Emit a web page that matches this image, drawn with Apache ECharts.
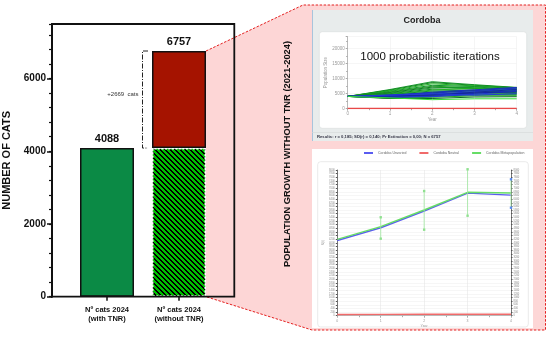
<!DOCTYPE html>
<html><head><meta charset="utf-8">
<script src="https://cdn.jsdelivr.net/npm/echarts@6/dist/echarts.min.js"></script>
<style>html,body{margin:0;padding:0;background:#fff}#c{width:550px;height:337px}</style>
</head><body><div id="c"></div>
<script>
// ---------------- data ----------------
const categories = ['Nº cats 2024\n(with TNR)', 'Nº cats 2024\n(without TNR)'];
const catsWithTNR = 4088;
const catsWithoutTNR = 6757;
const mainYLabels = [0, 2000, 4000, 6000];
const mainYMinorStep = 400;

const iterYears = [0, 1, 2, 3, 4];
const iterGreen = [
  [4088, 6400, 9000, 8000, 7100],
  [4088, 6200, 8700, 7800, 7000],
  [4088, 6000, 8300, 7600, 6900],
  [4088, 5800, 7800, 7400, 6800],
  [4088, 5600, 7500, 7000, 6600],
  [4088, 5400, 7200, 6800, 6500],
  [4088, 5200, 6900, 7300, 6300],
  [4088, 5000, 6500, 6600, 6100],
  [4088, 4800, 6200, 6900, 6000],
  [4088, 4700, 5900, 6200, 5800],
  [4088, 4500, 5600, 5900, 5600],
  [4088, 4300, 5300, 6100, 5500],
  [4088, 4100, 5000, 5600, 5300],
  [4088, 3900, 4700, 5200, 5100],
  [4088, 3700, 4400, 4900, 4800],
  [4088, 3600, 4100, 4600, 4600],
  [4088, 3500, 3800, 4300, 4300],
  [4088, 3400, 3400, 3900, 4000]
];
const iterBright = [4088, 3600, 3000, 3300, 3300];
const iterBlue = [
  [4088, 4600, 5200, 6000, 6900],
  [4088, 4300, 4800, 5700, 6600],
  [4088, 4000, 4500, 5500, 6400],
  [4088, 3800, 4200, 5100, 6100],
  [4088, 3900, 4000, 4800, 5800],
  [4088, 4200, 4600, 5300, 5600],
  [4088, 4400, 5500, 6300, 7100],
  [4088, 4500, 5000, 4500, 5000]
];
const iterRed = [60, 60, 60, 60, 60];

const detYears = [0, 1, 2, 3, 4];
const detNames = ['Cordoba Unvaried', 'Cordoba Neutral', 'Cordoba Metapopulation'];
const detUnvaried = [4130, 4830, 5750, 6730, 6620];
const detNeutral = [70, 75, 80, 80, 80];
const detMeta = [4195, 4887, 5804, 6776, 6738];
const errYears = [1, 2, 3, 4];
const errLow = [4229, 4723, 5490, 5930];
const errHigh = [5404, 6848, 8040, 7490];

// ---------------- helpers ----------------
function makeHatch() {
  const P = 5, c = document.createElement('canvas');
  c.width = P; c.height = P;
  const ctx = c.getContext('2d');
  const img = ctx.createImageData(P, P);
  for (let y = 0; y < P; y++) for (let x = 0; x < P; x++) {
    const k = (((x - y) % P) + P) % P;
    const i = (y * P + x) * 4;
    if (k < 2) { img.data[i] = 0; img.data[i+1] = 0; img.data[i+2] = 0; }
    else { img.data[i] = 0; img.data[i+1] = 190; img.data[i+2] = 0; }
    img.data[i+3] = 255;
  }
  ctx.putImageData(img, 0, 0);
  return c;
}
const hatch = makeHatch();
const greenShades = ['#159a2a', '#0e7f1e', '#1fb41f', '#118c30', '#22a822', '#0c7020'];
const blueShades = ['#1c2fc0', '#2438d8', '#1428a0'];
const FONT = 'Liberation Sans, Arial, sans-serif';
const plain = v => String(v);

const chart = echarts.init(document.getElementById('c'), null, { renderer: 'canvas' });

const series = [];
series.push({
  type: 'bar', xAxisIndex: 0, yAxisIndex: 0, stack: 'm', barWidth: 54, z: 4,
  data: [
    { value: catsWithTNR, itemStyle: { color: '#0b8a45', borderColor: '#111', borderWidth: 1.5 },
      label: { show: true, position: 'top', distance: 4, fontFamily: FONT, fontWeight: 'bold', fontSize: 11, color: '#111' } },
    { value: catsWithTNR, itemStyle: { color: { image: hatch, repeat: 'repeat' }, borderColor: '#fff', borderWidth: 1.5, borderType: [2, 1.5] } }
  ],
  silent: true
});
series.push({
  type: 'bar', xAxisIndex: 0, yAxisIndex: 0, stack: 'm', barWidth: 54, z: 3,
  data: ['-', catsWithoutTNR - catsWithTNR],
  itemStyle: { color: '#a51300', borderColor: '#111', borderWidth: 1.5 },
  label: { show: true, position: 'top', distance: 4, formatter: () => String(catsWithoutTNR), fontFamily: FONT, fontWeight: 'bold', fontSize: 11, color: '#111' },
  silent: true
});
iterGreen.forEach((d, i) => series.push({
  type: 'line', xAxisIndex: 1, yAxisIndex: 2, symbol: 'none', silent: true, z: 3,
  data: iterYears.map((y, j) => [y, d[j]]),
  lineStyle: { width: 1, color: greenShades[i % greenShades.length] }
}));
iterBlue.forEach((d, i) => series.push({
  type: 'line', xAxisIndex: 1, yAxisIndex: 2, symbol: 'none', silent: true, z: 4,
  data: iterYears.map((y, j) => [y, d[j]]),
  lineStyle: { width: 1, color: blueShades[i % blueShades.length] }
}));
series.push({
  type: 'line', xAxisIndex: 1, yAxisIndex: 2, symbol: 'none', silent: true, z: 4,
  data: iterYears.map((y, j) => [y, iterBright[j]]),
  lineStyle: { width: 1, color: '#33e033' }
});
series.push({
  type: 'line', xAxisIndex: 1, yAxisIndex: 2, symbol: 'none', silent: true, z: 5,
  data: iterYears.map((y, j) => [y, iterRed[j]]),
  lineStyle: { width: 1.3, color: '#e84848' }
});
series.push({
  name: detNames[0], type: 'line', xAxisIndex: 2, yAxisIndex: 3, symbol: 'none', silent: true, z: 5,
  data: detYears.map((y, j) => [y, detUnvaried[j]]), lineStyle: { width: 1.4, color: '#5a5cf0' }, itemStyle: { color: '#5a5cf0' }
});
series.push({
  name: detNames[1], type: 'line', xAxisIndex: 2, yAxisIndex: 3, symbol: 'none', silent: true, z: 5,
  data: detYears.map((y, j) => [y, detNeutral[j]]), lineStyle: { width: 1.4, color: '#f06a6a' }, itemStyle: { color: '#f06a6a' }
});
series.push({
  name: detNames[2], type: 'line', xAxisIndex: 2, yAxisIndex: 3, symbol: 'none', silent: true, z: 6,
  data: detYears.map((y, j) => [y, detMeta[j]]), lineStyle: { width: 1.4, color: '#66dd66' }, itemStyle: { color: '#66dd66' }
});
series.push({
  type: 'custom', xAxisIndex: 2, yAxisIndex: 3, silent: true, z: 7,
  data: errYears.map((y, j) => [y, errLow[j], errHigh[j]]),
  renderItem: function (params, api) {
    const lo = api.coord([api.value(0), api.value(1)]);
    const hi = api.coord([api.value(0), api.value(2)]);
    const c = params.dataIndex === 3 ? '#5a8cf0' : '#8fe08f';
    return { type: 'group', children: [
      { type: 'line', shape: { x1: lo[0], y1: lo[1], x2: hi[0], y2: hi[1] }, style: { stroke: '#9ee89e', lineWidth: 0.8 } },
      { type: 'rect', shape: { x: lo[0] - 1.2, y: lo[1] - 1.2, width: 2.4, height: 2.4 }, style: { fill: c } },
      { type: 'rect', shape: { x: hi[0] - 1.2, y: hi[1] - 1.2, width: 2.4, height: 2.4 }, style: { fill: c } }
    ] };
  }
});

const smallAxisLabel = { fontSize: 4.5, color: '#999', fontFamily: FONT, margin: 3, formatter: plain };

chart.setOption({
  animation: false,
  legend: {
    data: detNames, top: 151, left: 364, itemWidth: 9, itemHeight: 2, itemGap: 13, icon: 'rect',
    textStyle: { fontSize: 3.5, color: '#666', fontFamily: FONT }, padding: 0
  },
  grid: [
    { left: 71, top: 24, width: 144, height: 272.7 },
    { left: 347.7, top: 36.7, width: 169, height: 72 },
    { left: 337.3, top: 170, width: 173.7, height: 145.7 }
  ],
  xAxis: [
    { type: 'category', gridIndex: 0, data: categories,
      axisLine: { show: false },
      axisTick: { show: true, alignWithLabel: true, length: 4, lineStyle: { color: '#111', width: 1.5 } },
      axisLabel: { fontFamily: FONT, fontWeight: 'bold', fontSize: 7.5, lineHeight: 9.5, color: '#111', margin: 8 } },
    { type: 'value', gridIndex: 1, min: 0, max: 4, interval: 1, name: 'Year', nameLocation: 'middle', nameGap: 9,
      nameTextStyle: { fontSize: 4.5, color: '#999', fontFamily: FONT },
      axisLine: { lineStyle: { color: '#aaa', width: 0.8 } },
      axisTick: { length: 2, lineStyle: { color: '#aaa' } },
      minorTick: { show: true, splitNumber: 2, length: 1.5, lineStyle: { color: '#aaa' } },
      splitLine: { show: true, lineStyle: { color: '#eee', width: 0.6 } },
      axisLabel: smallAxisLabel },
    { type: 'value', gridIndex: 2, min: 0, max: 4, interval: 1, name: 'Year', nameLocation: 'middle', nameGap: 7,
      nameTextStyle: { fontSize: 3.5, color: '#999', fontFamily: FONT },
      axisLine: { lineStyle: { color: '#aaa', width: 0.8 } },
      axisTick: { length: 2, lineStyle: { color: '#aaa' } },
      minorTick: { show: true, splitNumber: 2, length: 1.5, lineStyle: { color: '#aaa' } },
      splitLine: { show: true, lineStyle: { color: '#e6e6e6', width: 0.6 } },
      axisLabel: { fontSize: 3.5, color: '#999', fontFamily: FONT, margin: 3, formatter: plain } }
  ],
  yAxis: [
    { type: 'value', gridIndex: 0, position: 'left', offset: 19, min: 0, max: 7500,
      name: 'NUMBER OF CATS', nameLocation: 'middle', nameGap: 40,
      nameTextStyle: { fontFamily: FONT, fontWeight: 'bold', fontSize: 11, color: '#111' },
      axisLine: { show: true, lineStyle: { color: '#111', width: 1.8 } },
      axisTick: { show: true, customValues: mainYLabels, length: 5, lineStyle: { color: '#111', width: 1.5 } },
      axisLabel: { customValues: mainYLabels, formatter: plain, fontFamily: FONT, fontWeight: 'bold', fontSize: 10, color: '#111', margin: 6 },
      splitLine: { show: false } },
    { type: 'value', gridIndex: 0, position: 'left', offset: 19, min: 0, max: 7500, interval: mainYMinorStep,
      axisLine: { show: true, lineStyle: { color: '#111', width: 1.8 } },
      axisTick: { show: true, length: 3, lineStyle: { color: '#111', width: 1.2 } },
      axisLabel: { show: false }, splitLine: { show: false } },
    { type: 'value', gridIndex: 1, min: 0, max: 24000, interval: 5000,
      name: 'Population Size', nameLocation: 'middle', nameGap: 17,
      nameTextStyle: { fontSize: 4.5, color: '#999', fontFamily: FONT },
      axisLine: { show: true, lineStyle: { color: '#aaa', width: 0.8 } },
      axisTick: { show: true, length: 2, lineStyle: { color: '#aaa' } },
      minorTick: { show: true, splitNumber: 2, length: 1.5, lineStyle: { color: '#aaa' } },
      splitLine: { show: true, lineStyle: { color: '#f0f0f0', width: 0.6 } },
      axisLabel: Object.assign({ customValues: [0, 5000, 10000, 15000, 20000] }, smallAxisLabel) },
    { type: 'value', gridIndex: 2, position: 'left', min: 0, max: 8000, interval: 200,
      name: 'N(t)', nameLocation: 'middle', nameGap: 9,
      nameTextStyle: { fontSize: 3, color: '#999', fontFamily: FONT },
      axisLine: { show: true, lineStyle: { color: '#555', width: 0.8 } },
      axisTick: { show: true, length: 1.5, lineStyle: { color: '#555' } },
      splitLine: { show: true, lineStyle: { color: '#ececec', width: 0.5 } },
      axisLabel: { fontSize: 2.6, color: '#888', fontFamily: FONT, margin: 2.5, formatter: plain } },
    { type: 'value', gridIndex: 2, position: 'right', min: 0, max: 8000, interval: 200,
      axisLine: { show: true, lineStyle: { color: '#555', width: 0.8 } },
      axisTick: { show: true, length: 1.5, lineStyle: { color: '#555' } },
      splitLine: { show: false },
      axisLabel: { fontSize: 2.6, color: '#888', fontFamily: FONT, margin: 2.5, formatter: plain } }
  ],
  series: series
});

const pTop = chart.convertToPixel({ xAxisIndex: 0, yAxisIndex: 0 }, [1, catsWithoutTNR]);
const pMid = chart.convertToPixel({ xAxisIndex: 0, yAxisIndex: 0 }, [1, catsWithTNR]);
const pBot = chart.convertToPixel({ xAxisIndex: 0, yAxisIndex: 0 }, [1, 0]);
const half = 27;
const rx = pTop[0] + half;
const bx = pTop[0] - half - 9.5;
const frameL = 52, frameT = 24, frameR = 234.3, frameB = 296.7;

chart.setOption({
  graphic: [
    { type: 'polygon', z: -10, shape: { points: [[rx, pTop[1]], [303, 5], [545.5, 5], [545.5, 330], [312, 330], [rx, pBot[1]]] },
      style: { fill: '#fdd6d6', stroke: null } },
    { type: 'polyline', z: -9, shape: { points: [[rx, pTop[1]], [303, 5], [545.5, 5], [545.5, 330], [312, 330], [rx, pBot[1]]] },
      style: { fill: null, stroke: '#e32020', lineWidth: 1, lineDash: [2.5, 1.5] } },
    { type: 'rect', z: -8, shape: { x: 312, y: 10, width: 221, height: 131 }, style: { fill: '#e8ecec' } },
    { type: 'line', z: -7, shape: { x1: 312.5, y1: 10, x2: 312.5, y2: 141 }, style: { stroke: '#a8c4dc', lineWidth: 1 } },
    { type: 'rect', z: -7, shape: { x: 319.3, y: 31.7, width: 207.4, height: 96.6, r: 3 }, style: { fill: '#fff', stroke: '#d8dcdc', lineWidth: 0.6 } },
    { type: 'line', z: -7, shape: { x1: 312, y1: 132.5, x2: 533, y2: 132.5 }, style: { stroke: '#d4d8d8', lineWidth: 0.6 } },
    { type: 'text', z: 10, style: { text: 'Cordoba', x: 422, y: 21, font: '600 9px ' + FONT, fill: '#222', textAlign: 'center', textVerticalAlign: 'middle' } },
    { type: 'text', z: 10, style: { text: '1000 probabilistic iterations', x: 430, y: 56.5, font: '11.5px ' + FONT, fill: '#111', textAlign: 'center', textVerticalAlign: 'middle' } },
    { type: 'text', z: 10, style: { text: 'Results: r = 0,185; SD(r) = 0,140; Pr Extinction = 0,00; N = ' + catsWithoutTNR, x: 317, y: 137, font: 'bold 4.2px ' + FONT, fill: '#334', textAlign: 'left', textVerticalAlign: 'middle' } },
    { type: 'rect', z: -8, shape: { x: 312, y: 149, width: 221, height: 179 }, style: { fill: '#fff' } },
    { type: 'rect', z: -7, shape: { x: 317.7, y: 161.7, width: 210.6, height: 165.3, r: 3 }, style: { fill: '#fff', stroke: '#dcdcdc', lineWidth: 0.6 } },
    { type: 'text', z: 10, x: 287, y: 154, rotation: Math.PI / 2,
      style: { text: 'POPULATION GROWTH WITHOUT TNR (2021-2024)', x: 0, y: 0, font: 'bold 9.3px ' + FONT, fill: '#111', textAlign: 'center', textVerticalAlign: 'middle' } },
    { type: 'rect', z: 50, shape: { x: frameL, y: frameT, width: frameR - frameL, height: frameB - frameT },
      style: { fill: null, stroke: '#111', lineWidth: 1.8 } },
    { type: 'polyline', z: 50, shape: { points: [[bx + 5.5, pTop[1]], [bx, pTop[1]], [bx, pMid[1]], [bx + 5.5, pMid[1]]] },
      style: { fill: null, stroke: '#222', lineWidth: 1, lineDash: [5, 1.5, 1, 1.5] } },
    { type: 'text', z: 50, style: { text: '+' + (catsWithoutTNR - catsWithTNR) + '  cats', x: bx - 4, y: 94, font: '6px ' + FONT, fill: '#333', textAlign: 'right', textVerticalAlign: 'middle' } }
  ]
});
</script>
</body></html>
